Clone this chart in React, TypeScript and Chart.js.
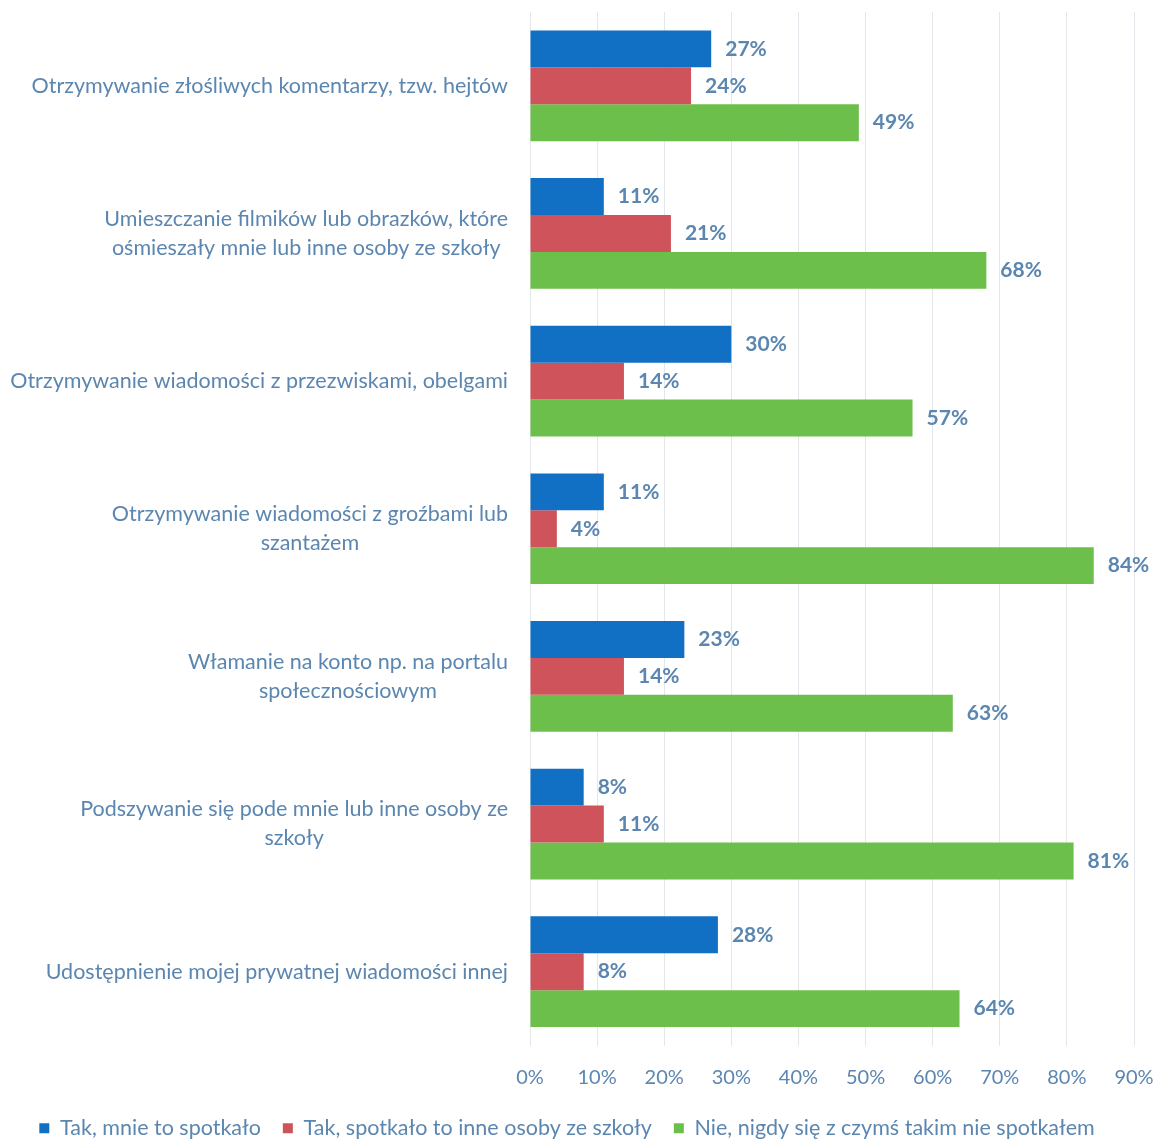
import React, { useEffect, useRef } from 'react';
import { Chart, registerables } from 'chart.js';

Chart.register(...registerables);

const categories: string[][] = [
  ['Otrzymywanie złośliwych komentarzy, tzw. hejtów'],
  ['Umieszczanie filmików lub obrazków, które', 'ośmieszały mnie lub inne osoby ze szkoły'],
  ['Otrzymywanie wiadomości z przezwiskami, obelgami'],
  ['Otrzymywanie wiadomości z groźbami lub', 'szantażem'],
  ['Włamanie na konto np. na portalu', 'społecznościowym'],
  ['Podszywanie się pode mnie lub inne osoby ze', 'szkoły'],
  ['Udostępnienie mojej prywatnej wiadomości innej'],
];

const seriesNames = [
  'Tak, mnie to spotkało',
  'Tak, spotkało to inne osoby ze szkoły',
  'Nie, nigdy się z czymś takim nie spotkałem',
];

const mePersonally = [27, 11, 30, 11, 23, 8, 28];
const othersAtSchool = [24, 21, 14, 4, 14, 11, 8];
const never = [49, 68, 57, 84, 63, 81, 64];

const xTicks = [0, 10, 20, 30, 40, 50, 60, 70, 80, 90];

const TEXT = '#5b86b0';
const FONT = 'Lato, "Open Sans", sans-serif';

const labelsPlugin = {
  id: 'customLabels',
  afterDatasetsDraw(chart: any) {
    const ctx = chart.ctx;
    ctx.save();
    ctx.font = `bold 21px ${FONT}`;
    ctx.fillStyle = TEXT;
    ctx.textAlign = 'left';
    ctx.textBaseline = 'middle';
    chart.data.datasets.forEach((ds: any, i: number) => {
      const meta = chart.getDatasetMeta(i);
      meta.data.forEach((el: any, j: number) => {
        ctx.fillText(ds.data[j] + '%', el.x + 14, el.y);
      });
    });
    const y = chart.scales.y;
    ctx.font = `21.5px ${FONT}`;
    ctx.textAlign = 'center';
    const right = chart.chartArea.left - 22;
    const lh = 29;
    categories.forEach((lines, i) => {
      const cy = y.getPixelForValue(i);
      const w = Math.max(...lines.map((l) => ctx.measureText(l).width));
      const cx = right - w / 2;
      lines.forEach((l, k) => {
        ctx.fillText(l, cx, cy + (k - (lines.length - 1) / 2) * lh);
      });
    });
    ctx.restore();
  },
};

export default function App() {
  const ref = useRef<HTMLCanvasElement | null>(null);
  useEffect(() => {
    if (!ref.current) return;
    const chart = new Chart(ref.current, {
      type: 'bar',
      data: {
        labels: categories.map((c) => c.join(' ')),
        datasets: [
          { label: seriesNames[0], data: mePersonally, backgroundColor: '#1170c4' },
          { label: seriesNames[1], data: othersAtSchool, backgroundColor: '#cf535a' },
          { label: seriesNames[2], data: never, backgroundColor: '#6cbf4b' },
        ],
      },
      options: {
        indexAxis: 'y',
        animation: false,
        responsive: false,
        maintainAspectRatio: false,
        layout: { padding: { left: 0, right: 23, top: 12, bottom: -9 } },
        datasets: { bar: { categoryPercentage: 0.75, barPercentage: 1 } },
        scales: {
          x: {
            min: 0,
            max: 90,
            afterBuildTicks: (scale: any) => {
              scale.ticks = xTicks.map((v) => ({ value: v }));
            },
            afterFit: (scale: any) => {
              scale.paddingRight = 0;
              scale.paddingLeft = 0;
              scale.height = 50;
            },
            ticks: {
              color: TEXT,
              font: { family: FONT, size: 20 },
              padding: 20,
              callback: (v: any) => v + '%',
            },
            grid: { color: '#e3e6ea', drawTicks: false },
            border: { display: false },
          },
          y: {
            ticks: { display: false },
            grid: { display: false, drawTicks: false },
            border: { display: false },
            afterFit: (scale: any) => {
              scale.width = 530;
            },
          },
        },
        plugins: {
          legend: {
            position: 'bottom',
            labels: {
              color: TEXT,
              font: { family: FONT, size: 21.5 },
              boxWidth: 10,
              boxHeight: 10,
              padding: 22,
            },
          },
          tooltip: { enabled: false },
        },
      },
      plugins: [labelsPlugin],
    });
    return () => chart.destroy();
  }, []);
  return (
    <div style={{ position: 'fixed', left: 0, top: 0, width: 1157, height: 1140, background: '#fff' }}>
      <canvas ref={ref} width={1157} height={1140} style={{ width: 1157, height: 1140 }} />
    </div>
  );
}
